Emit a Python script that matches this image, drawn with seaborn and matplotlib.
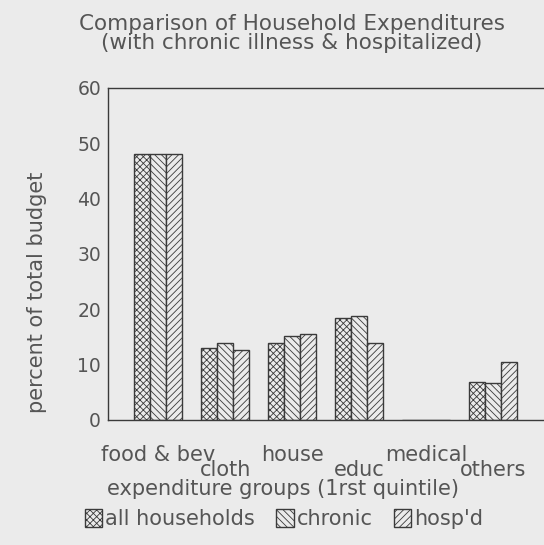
import pandas as pd
import seaborn as sns
import matplotlib
matplotlib.use("Agg")
import matplotlib.pyplot as plt

# values (percent of total budget)
groups = ["food & bev", "cloth", "house", "educ", "medical", "others"]
series = ["all households", "chronic", "hosp'd"]
all_households = [48.0, 13.0, 13.9, 18.5, 0.0, 6.8]
chronic = [48.0, 14.0, 15.2, 18.7, 0.0, 6.6]
hospd = [48.0, 12.7, 15.5, 14.0, 0.0, 10.5]

hatches = ["xxxxx", "\\\\\\\\\\", "/////"]

paper = "#ebebeb"
ink = "#3a3a3a"
text_col = "#555555"

df = pd.DataFrame({
    "group": groups * 3,
    "series": [series[0]] * 6 + [series[1]] * 6 + [series[2]] * 6,
    "value": all_households + chronic + hospd,
})

sns.set_theme(style="white")
plt.rcParams["font.family"] = ["DejaVu Sans"]
plt.rcParams["hatch.linewidth"] = 0.6
plt.rcParams["text.color"] = text_col
plt.rcParams["axes.labelcolor"] = text_col
plt.rcParams["xtick.color"] = ink
plt.rcParams["ytick.color"] = ink
plt.rcParams["xtick.labelcolor"] = text_col
plt.rcParams["ytick.labelcolor"] = text_col

fig = plt.figure(figsize=(5.44, 5.45), dpi=100, facecolor=paper)
ax = fig.add_axes([0.1985, 0.2294, 0.8217, 0.6092])
ax.set_facecolor(paper)

sns.barplot(data=df, x="group", y="value", hue="series", order=groups,
            hue_order=series, palette=[paper] * 3, edgecolor=ink,
            linewidth=1.0, width=0.72, legend=False, ax=ax)

for cont, h in zip(ax.containers, hatches):
    for p in cont.patches:
        p.set_hatch(h)
        p.set_edgecolor(ink)

ax.set_xlim(-0.75, 5.93)
ax.set_ylim(0, 60)
ax.set_yticks(range(0, 61, 10))
ax.tick_params(axis="y", direction="in", length=5, width=1, pad=5, labelsize=13.5)

# staggered category labels: first row on major ticks, second row on long minor ticks
ax.set_xticks([0, 2, 4], labels=[groups[0], groups[2], groups[4]])
ax.set_xticks([1, 3, 5], labels=[groups[1], groups[3], groups[5]], minor=True)
ax.tick_params(axis="x", which="major", direction="out", length=4, width=1,
               pad=14, labelsize=15)
ax.tick_params(axis="x", which="minor", direction="out", length=18, width=1,
               pad=11, labelsize=15)

for s in ["left", "bottom", "top"]:
    ax.spines[s].set_color(ink)
    ax.spines[s].set_linewidth(1.0)
ax.spines["right"].set_visible(False)

ax.set_ylabel("percent of total budget", fontsize=15)
ax.yaxis.set_label_coords(-0.136, 0.386)
ax.set_xlabel("expenditure groups (1rst quintile)", fontsize=15)
ax.xaxis.set_label_coords(0.391, -0.178)

fig.text(0.537, 0.974, "Comparison of Household Expenditures\n(with chronic illness & hospitalized)",
         ha="center", va="top", fontsize=15.5, linespacing=0.9)

fig.legend(ax.containers, series, loc="center", bbox_to_anchor=(0.522, 1 - 519 / 545),
           ncol=3, frameon=False, fontsize=15, handlelength=0.85, handleheight=0.95,
           handletextpad=0.15, columnspacing=1.0, borderpad=0)

fig.savefig("out.png", dpi=100, facecolor=paper)
